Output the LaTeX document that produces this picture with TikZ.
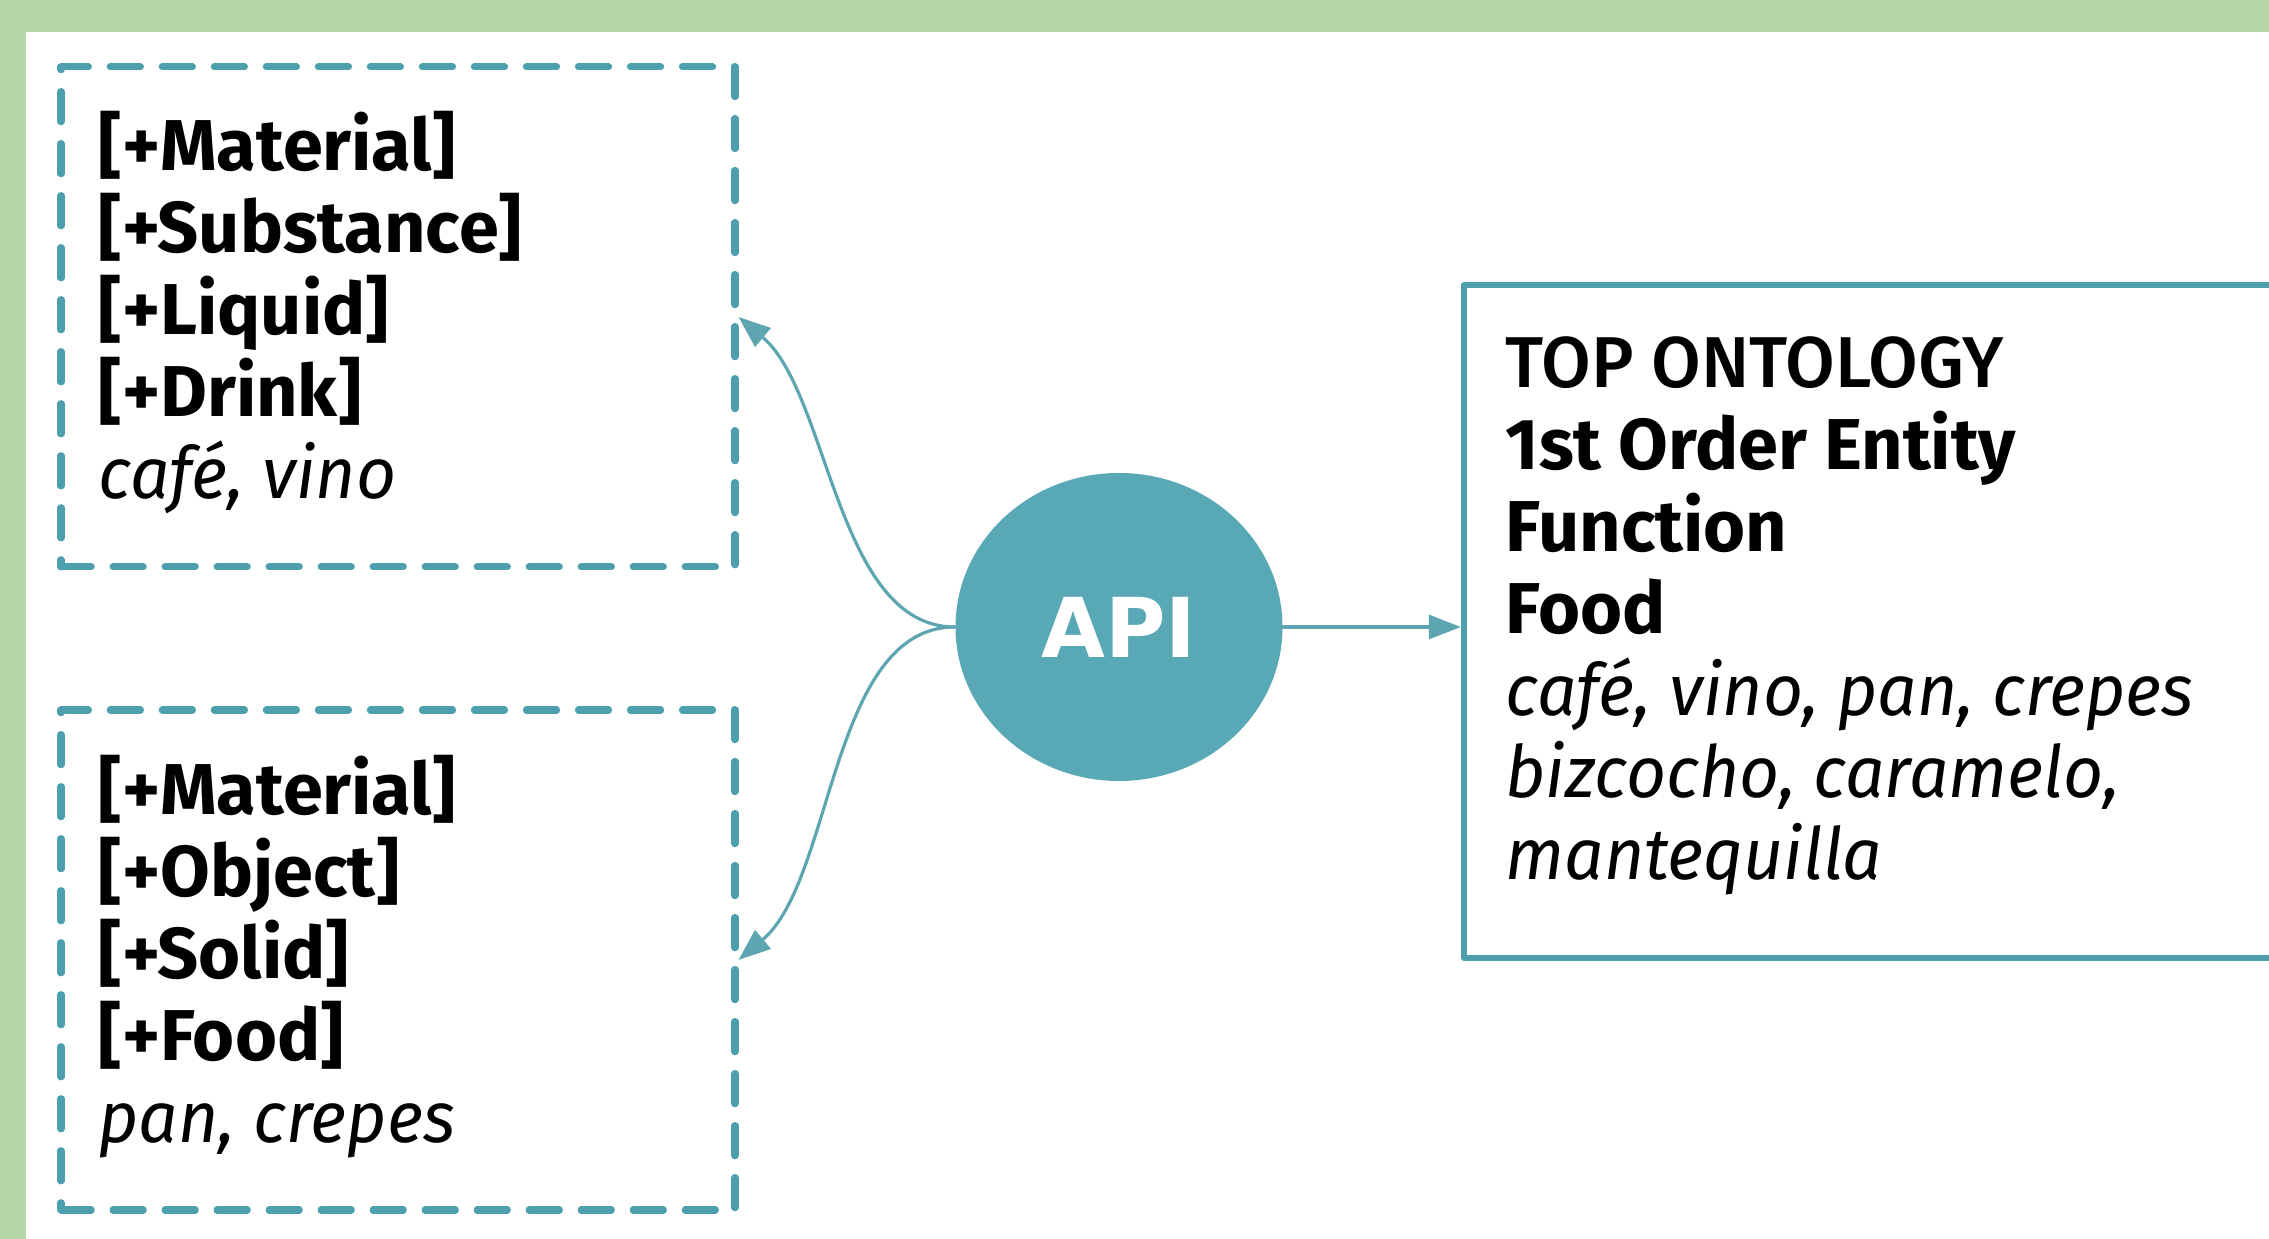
\documentclass[tikz,border=0pt]{standalone}
\usepackage{fontspec}
\setmainfont{Fira Sans}[ItalicFeatures={FakeStretch=0.965}]
\newfontfamily\medfont{Fira Sans Medium}
\newfontfamily\apifont{DejaVu Sans}
\usetikzlibrary{arrows.meta,shapes.geometric}
\definecolor{bggreen}{HTML}{B6D7A8}
\definecolor{boxteal}{HTML}{4E9FAD}
\definecolor{apiteal}{HTML}{58A8B6}
\definecolor{linkteal}{HTML}{5DA5B0}
\tikzset{
    dashbox/.style={draw=boxteal, line width=2pt, dash pattern=on 8.6pt off 6.2pt,
        minimum width=6.74cm, minimum height=5cm},
    ontobox/.style={draw=boxteal, line width=1.8pt, minimum width=8.86cm, minimum height=6.73cm},
    link/.style={draw=linkteal, line width=0.9pt, -{Triangle[length=0.32cm, width=0.24cm]}},
    textline/.style={anchor=base west, inner sep=0pt, font=\fontsize{20.5}{24}\selectfont}
}
\begin{document}
\begin{tikzpicture}[line cap=round, line join=round, x=1cm, y=1cm]
    \useasboundingbox (0, 0) rectangle (22.69, 12.39);
    \clip (0, 0) rectangle (22.69, 12.39);
    \fill[bggreen] (0, 0) rectangle (22.69, 12.39);
    \fill[white] (0.26, 0) rectangle (22.69, 12.07);
    \node[dashbox] (drink) at (3.98, 9.22) {};
    \node[dashbox] (food) at (3.98, 2.79) {};
    \node[ontobox] (onto) at (19.07, 6.175) {};
    \node[ellipse, fill=apiteal, minimum width=3.27cm, minimum height=3.08cm, text=white,
        font=\apifont\bfseries\fontsize{23.5}{28}\selectfont] (api) at (11.19, 6.12) {API};
    \foreach \txt/\sty [count=\i from 0] in {{[+Material]}/\bfseries, {[+Substance]}/\bfseries,
        {[+Liquid]}/\bfseries, {[+Drink]}/\bfseries, {café, vino}/\itshape}
        \node[textline] (drink\i) at (0.98, 10.68-0.82*\i) {\sty\txt};
    \foreach \txt/\sty [count=\i from 0] in {{[+Material]}/\bfseries, {[+Object]}/\bfseries,
        {[+Solid]}/\bfseries, {[+Food]}/\bfseries, {pan, crepes}/\itshape}
        \node[textline] (food\i) at (0.98, 4.24-0.82*\i) {\sty\txt};
    \foreach \txt/\sty [count=\i from 0] in {TOP ONTOLOGY/\medfont, 1st Order Entity/\bfseries,
        Function/\bfseries, Food/\bfseries, {café, vino, pan, crepes}/\itshape,
        {bizcocho, caramelo,}/\itshape, mantequilla/\itshape}
        \node[textline] (onto\i) at (15.05, 8.51-0.82*\i) {\sty\txt};
    \draw[link] (api.west) to[out=180, in=-40, looseness=0.8] (drink.east);
    \draw[link] (api.west) to[out=180, in=40, looseness=0.8] (food.east);
    \draw[link] (api.east) -- (api.east -| onto.west);
\end{tikzpicture}
\end{document}
